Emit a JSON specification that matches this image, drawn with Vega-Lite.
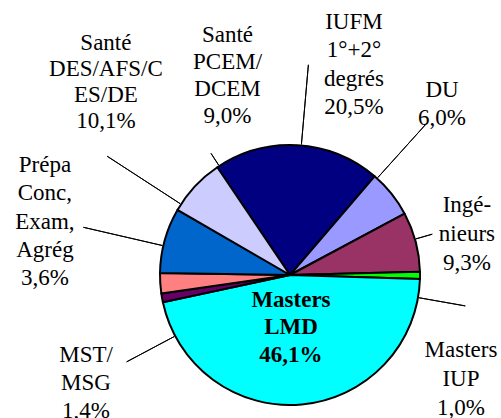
{
  "$schema": "https://vega.github.io/schema/vega-lite/v6.json",
  "width": 260,
  "height": 260,
  "autosize": {"type": "none"},
  "padding": {"left": 160, "top": 145, "right": 81, "bottom": 13},
  "background": "white",
  "view": {"stroke": null},
  "data": {
    "values": [
      {"cat": "IUFM", "ord": 1, "share": 20.7, "label": "IUFM\n1°+2°\ndegrés\n20,5%"},
      {"cat": "DU", "ord": 2, "share": 5.9, "label": "DU\n6,0%"},
      {"cat": "Ingenieurs", "ord": 3, "share": 7.4, "label": "Ingé-\nnieurs\n9,3%"},
      {"cat": "Masters IUP", "ord": 4, "share": 0.9, "label": "Masters\nIUP\n1,0%"},
      {"cat": "Masters LMD", "ord": 5, "share": 46.1, "label": "Masters\nLMD\n46,1%"},
      {"cat": "MST/MSG", "ord": 6, "share": 1.1, "label": "MST/\nMSG\n1,4%"},
      {"cat": "Prepa", "ord": 7, "share": 2.5, "label": "Prépa\nConc,\nExam,\nAgrég\n3,6%"},
      {"cat": "Sante DES", "ord": 8, "share": 8.1, "label": "Santé\nDES/AFS/C\nES/DE\n10,1%"},
      {"cat": "Sante PCEM", "ord": 9, "share": 7.2, "label": "Santé\nPCEM/\nDCEM\n9,0%"}
    ]
  },
  "encoding": {
    "theta": {"field": "share", "type": "quantitative", "stack": true, "scale": {"range": [-0.5934, 5.6898]}},
    "order": {"field": "ord", "type": "quantitative"}
  },
  "layer": [
    {
      "mark": {"type": "arc", "radius": 130, "stroke": "black", "strokeWidth": 2, "strokeJoin": "round"},
      "encoding": {
        "color": {
          "field": "cat", "type": "nominal", "legend": null,
          "scale": {
            "domain": ["IUFM", "DU", "Ingenieurs", "Masters IUP", "Masters LMD", "MST/MSG", "Prepa", "Sante DES", "Sante PCEM"],
            "range": ["#000080", "#9999FF", "#993366", "#00FF00", "#00FFFF", "#660066", "#FF8080", "#0066CC", "#CCCCFF"]
          }
        }
      }
    },
    {
      "mark": {"type": "arc", "radius": 211, "radius2": 131, "thetaOffset": 0.0297, "padAngle": 3.0, "fillOpacity": 0, "stroke": "black", "strokeWidth": 1},
      "encoding": {"strokeOpacity": {"condition": {"test": "datum.cat === 'IUFM'", "value": 1}, "value": 0}}
    },
    {
      "mark": {"type": "arc", "radius": 205, "radius2": 131, "thetaOffset": -0.1606, "padAngle": 3.0, "fillOpacity": 0, "stroke": "black", "strokeWidth": 1},
      "encoding": {"strokeOpacity": {"condition": {"test": "datum.cat === 'DU'", "value": 1}, "value": 0}}
    },
    {
      "mark": {"type": "arc", "radius": 148, "radius2": 131, "thetaOffset": -0.0209, "padAngle": 3.0, "fillOpacity": 0, "stroke": "black", "strokeWidth": 1},
      "encoding": {"strokeOpacity": {"condition": {"test": "datum.cat === 'Ingenieurs'", "value": 1}, "value": 0}}
    },
    {
      "mark": {"type": "arc", "radius": 178, "radius2": 131, "thetaOffset": 0.1720, "padAngle": 3.0, "fillOpacity": 0, "stroke": "black", "strokeWidth": 1},
      "encoding": {"strokeOpacity": {"condition": {"test": "datum.cat === 'Masters IUP'", "value": 1}, "value": 0}}
    },
    {
      "mark": {"type": "arc", "radius": 185, "radius2": 131, "thetaOffset": -0.3119, "padAngle": 3.0, "fillOpacity": 0, "stroke": "black", "strokeWidth": 1},
      "encoding": {"strokeOpacity": {"condition": {"test": "datum.cat === 'MST/MSG'", "value": 1}, "value": 0}}
    },
    {
      "mark": {"type": "arc", "radius": 212, "radius2": 131, "thetaOffset": 0.2904, "padAngle": 3.0, "fillOpacity": 0, "stroke": "black", "strokeWidth": 1},
      "encoding": {"strokeOpacity": {"condition": {"test": "datum.cat === 'Prepa'", "value": 1}, "value": 0}}
    },
    {
      "mark": {"type": "arc", "radius": 218, "radius2": 131, "thetaOffset": 0.3063, "padAngle": 3.0, "fillOpacity": 0, "stroke": "black", "strokeWidth": 1},
      "encoding": {"strokeOpacity": {"condition": {"test": "datum.cat === 'Sante DES'", "value": 1}, "value": 0}}
    },
    {
      "mark": {"type": "arc", "radius": 145, "radius2": 131, "thetaOffset": 0.2438, "padAngle": 3.0, "fillOpacity": 0, "stroke": "black", "strokeWidth": 1},
      "encoding": {"strokeOpacity": {"condition": {"test": "datum.cat === 'Sante PCEM'", "value": 1}, "value": 0}}
    },
    {
      "mark": {"type": "text", "radius": 261, "thetaOffset": 0.190, "font": "Liberation Serif", "fontSize": 23, "lineHeight": 28.5, "lineBreak": "\n", "align": "center", "baseline": "middle", "color": "black"},
      "encoding": {"text": {"condition": {"test": "datum.cat === 'IUFM'", "field": "label", "type": "nominal"}, "value": ""}}
    },
    {
      "mark": {"type": "text", "radius": 239.4, "thetaOffset": -0.206, "font": "Liberation Serif", "fontSize": 23, "lineHeight": 28, "lineBreak": "\n", "align": "center", "baseline": "middle", "color": "black"},
      "encoding": {"text": {"condition": {"test": "datum.cat === 'DU'", "field": "label", "type": "nominal"}, "value": ""}}
    },
    {
      "mark": {"type": "text", "radius": 190.3, "thetaOffset": -0.119, "font": "Liberation Serif", "fontSize": 23, "lineHeight": 29, "lineBreak": "\n", "align": "center", "baseline": "middle", "color": "black"},
      "encoding": {"text": {"condition": {"test": "datum.cat === 'Ingenieurs'", "field": "label", "type": "nominal"}, "value": ""}}
    },
    {
      "mark": {"type": "text", "radius": 186.7, "thetaOffset": 0.411, "font": "Liberation Serif", "fontSize": 23, "lineHeight": 29, "lineBreak": "\n", "align": "center", "baseline": "middle", "color": "black"},
      "encoding": {"text": {"condition": {"test": "datum.cat === 'Masters IUP'", "field": "label", "type": "nominal"}, "value": ""}}
    },
    {
      "mark": {"type": "text", "radius": 25, "thetaOffset": 0.051, "font": "Liberation Serif", "fontSize": 23, "fontWeight": "bold", "lineHeight": 27.5, "lineBreak": "\n", "align": "center", "baseline": "middle", "color": "black"},
      "encoding": {"text": {"condition": {"test": "datum.cat === 'Masters LMD'", "field": "label", "type": "nominal"}, "value": ""}}
    },
    {
      "mark": {"type": "text", "radius": 219.1, "thetaOffset": -0.197, "font": "Liberation Serif", "fontSize": 23, "lineHeight": 28, "lineBreak": "\n", "align": "center", "baseline": "middle", "color": "black"},
      "encoding": {"text": {"condition": {"test": "datum.cat === 'MST/MSG'", "field": "label", "type": "nominal"}, "value": ""}}
    },
    {
      "mark": {"type": "text", "radius": 268.6, "thetaOffset": 0.485, "font": "Liberation Serif", "fontSize": 23, "lineHeight": 28.3, "lineBreak": "\n", "align": "center", "baseline": "middle", "color": "black"},
      "encoding": {"text": {"condition": {"test": "datum.cat === 'Prepa'", "field": "label", "type": "nominal"}, "value": ""}}
    },
    {
      "mark": {"type": "text", "radius": 296.1, "thetaOffset": 0.630, "font": "Liberation Serif", "fontSize": 23, "lineHeight": 26, "lineBreak": "\n", "align": "center", "baseline": "middle", "color": "black"},
      "encoding": {"text": {"condition": {"test": "datum.cat === 'Sante DES'", "field": "label", "type": "nominal"}, "value": ""}}
    },
    {
      "mark": {"type": "text", "radius": 247.9, "thetaOffset": 0.565, "font": "Liberation Serif", "fontSize": 23, "lineHeight": 27, "lineBreak": "\n", "align": "center", "baseline": "middle", "color": "black"},
      "encoding": {"text": {"condition": {"test": "datum.cat === 'Sante PCEM'", "field": "label", "type": "nominal"}, "value": ""}}
    }
  ]
}
